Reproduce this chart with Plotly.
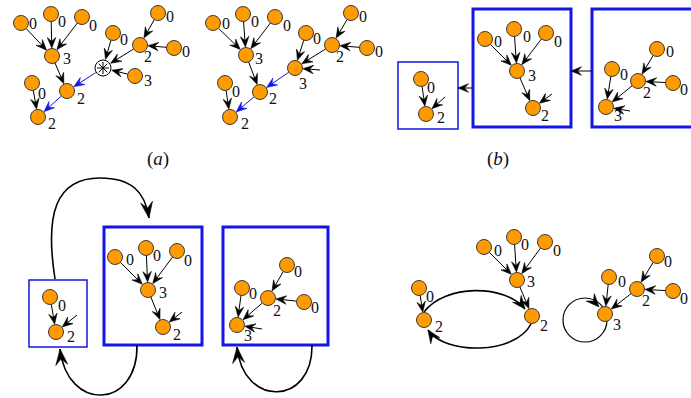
import math
import plotly.graph_objects as go

W, H = 691, 398

# ---------------- data (node positions, labels, edges) ----------------
# panel (a) left
a1_x = [21, 51, 82, 52, 67, 32, 38, 113, 140, 158, 174, 135]
a1_y = [23, 14, 17, 56, 91, 83, 117, 33, 45, 13, 48, 76]
a1_lab = ['0', '0', '0', '3', '2', '0', '2', '0', '2', '0', '0', '3']
a1_lx = [33, 62, 93, 67, 81, 42, 52, 124, 148, 170, 186, 148]
a1_ly = [25, 23, 27, 60, 100, 95, 125, 41, 58, 18, 53, 82]
a1_otimes = (103, 68)
a1_edges = [(0, 3), (1, 3), (2, 3), (3, 4), (5, 6), (7, 'X'), (8, 'X'), (11, 'X'), (9, 8), (10, 8)]
a1_blue = [(4, 6), ('X', 4)]

# panel (a) right
a2_x = [213, 243, 275, 246, 260, 225, 230, 306, 332, 351, 367, 295]
a2_y = [23, 14, 17, 55, 92, 83, 117, 33, 45, 13, 48, 68]
a2_lab = ['0', '0', '0', '3', '2', '0', '2', '0', '2', '0', '0', '3']
a2_lx = [226, 255, 287, 259, 273, 236, 245, 317, 340, 363, 379, 303]
a2_ly = [25, 23, 27, 60, 100, 93, 125, 40, 58, 18, 53, 85]
a2_edges = [(0, 3), (1, 3), (2, 3), (3, 4), (5, 6), (7, 11), (8, 11), (9, 8), (10, 8)]
a2_blue = [(4, 6), (11, 4)]
a2_stubs = [(11, 320, 70)]

# panel (b)
b1_x = [421, 426]; b1_y = [79, 114]; b1_lab = ['0', '2']
b1_lx = [431, 441]; b1_ly = [89, 119]
b1_edges = [(0, 1)]; b1_stubs = [(1, 445, 97)]

b2_x = [485, 514, 546, 517, 533]; b2_y = [39, 29, 33, 71, 108]
b2_lab = ['0', '0', '0', '3', '2']
b2_lx = [498, 527, 558, 532, 545]; b2_ly = [43, 38, 43, 77, 117]
b2_edges = [(0, 3), (1, 3), (2, 3), (3, 4)]; b2_stubs = [(4, 552, 94)]

b3_x = [657, 612, 638, 673, 606]; b3_y = [49, 69, 81, 83, 107]
b3_lab = ['0', '0', '2', '0', '3']
b3_lx = [670, 624, 647, 684, 618]; b3_ly = [53, 76, 94, 91, 117]
b3_edges = [(0, 2), (3, 2), (1, 4), (2, 4)]; b3_stubs = [(4, 630, 111)]

# panel (c)
c1_x = [50, 56]; c1_y = [297, 332]; c1_lab = ['0', '2']
c1_lx = [62, 71]; c1_ly = [307, 338]
c1_edges = [(0, 1)]; c1_stubs = [(1, 77, 315)]

c2_x = [115, 146, 177, 148, 163]; c2_y = [257, 248, 251, 290, 327]
c2_lab = ['0', '0', '0', '3', '2']
c2_lx = [130, 157, 188, 163, 177]; c2_ly = [261, 257, 262, 294, 336]
c2_edges = [(0, 3), (1, 3), (2, 3), (3, 4)]; c2_stubs = [(4, 182, 312)]

c3_x = [287, 242, 268, 304, 237]; c3_y = [265, 288, 298, 302, 325]
c3_lab = ['0', '0', '2', '0', '3']
c3_lx = [298, 253, 277, 315, 248]; c3_ly = [273, 295, 312, 309, 337]
c3_edges = [(0, 2), (3, 2), (1, 4), (2, 4)]; c3_stubs = [(4, 262, 329)]

# panel (d)
d1_x = [419, 424]; d1_y = [288, 320]; d1_lab = ['0', '2']
d1_lx = [430, 439]; d1_ly = [298, 328]
d1_edges = [(0, 1)]

d2_x = [484, 514, 545, 517, 532]; d2_y = [247, 237, 242, 280, 316]
d2_lab = ['0', '0', '0', '3', '2']
d2_lx = [498, 525, 557, 531, 544]; d2_ly = [252, 246, 252, 283, 327]
d2_edges = [(0, 3), (1, 3), (2, 3), (3, 4)]

d3_x = [657, 609, 637, 673, 605]; d3_y = [256, 277, 289, 291, 314]
d3_lab = ['0', '0', '2', '0', '3']
d3_lx = [668, 622, 646, 684, 617]; d3_ly = [263, 283, 302, 300, 326]
d3_edges = [(0, 2), (3, 2), (1, 4), (2, 4)]

panel_labels = ['(<i>a</i>)', '(<i>b</i>)']
panel_lx = [158, 498]
panel_ly = [160, 160]

# ---------------- drawing helpers ----------------
R = 7.5
BLACK = '#000000'
BLUE = '#1515e6'
ORANGE = '#FF9A00'
shapes = []
traces = []


def arrowhead(tx, ty, dx, dy, L=10.5, Wd=8.5, color=BLACK):
    n = math.hypot(dx, dy)
    dx, dy = dx / n, dy / n
    px, py = -dy, dx
    bx, by = tx - L * dx, ty - L * dy
    ix, iy = tx - 0.62 * L * dx, ty - 0.62 * L * dy
    p = (f"M {tx:.2f},{ty:.2f} L {bx + px * Wd / 2:.2f},{by + py * Wd / 2:.2f} "
         f"L {ix:.2f},{iy:.2f} L {bx - px * Wd / 2:.2f},{by - py * Wd / 2:.2f} Z")
    shapes.append(dict(type='path', path=p, fillcolor=color, line=dict(color=color, width=0.6),
                       layer='below', xref='x', yref='y'))


def edge(x0, y0, x1, y1, color=BLACK, r0=R, r1=R + 0.5, width=1.0):
    dx, dy = x1 - x0, y1 - y0
    n = math.hypot(dx, dy)
    ux, uy = dx / n, dy / n
    sx, sy = x0 + ux * r0, y0 + uy * r0
    tx, ty = x1 - ux * r1, y1 - uy * r1
    ex, ey = tx - ux * 5, ty - uy * 5
    shapes.append(dict(type='line', x0=sx, y0=sy, x1=ex, y1=ey, xref='x', yref='y',
                       line=dict(color=color, width=width), layer='below'))
    arrowhead(tx, ty, ux, uy, color=color)


def curve(pts, width=1.6, L=16, Wd=12):
    (x0, y0) = pts[0]
    p = f"M {x0},{y0}"
    for i in range(1, len(pts), 3):
        (a, b), (c, d), (e, f) = pts[i], pts[i + 1], pts[i + 2]
        p += f" C {a},{b} {c},{d} {e},{f}"
    shapes.append(dict(type='path', path=p, line=dict(color=BLACK, width=width),
                       layer='below', xref='x', yref='y'))
    (c, d), (e, f) = pts[-2], pts[-1]
    arrowhead(e, f, e - c, f - d, L=L, Wd=Wd)


def box(x0, y0, x1, y1, width):
    shapes.append(dict(type='rect', x0=x0, y0=y0, x1=x1, y1=y1, xref='x', yref='y',
                       line=dict(color=BLUE, width=width), fillcolor='rgba(0,0,0,0)', layer='below'))


def group(xs, ys, labs, lxs, lys, edges=(), blue=(), stubs=(), extra=None):
    def pos(k):
        if k == 'X':
            return extra
        return xs[k], ys[k]
    for a, b in edges:
        (x0, y0), (x1, y1) = pos(a), pos(b)
        edge(x0, y0, x1, y1, r0=(8.5 if a == 'X' else R), r1=(9 if b == 'X' else R + 0.5))
    for a, b in blue:
        (x0, y0), (x1, y1) = pos(a), pos(b)
        edge(x0, y0, x1, y1, color=BLUE, r0=(8.5 if a == 'X' else R))
    for k, sx, sy in stubs:
        edge(sx, sy, xs[k], ys[k], r0=0)
    traces.append(go.Scatter(x=xs, y=ys, mode='markers', hoverinfo='skip',
                             marker=dict(size=15, color=ORANGE, line=dict(color='#3a3a3a', width=1))))
    traces.append(go.Scatter(x=lxs, y=lys, mode='text', text=labs, hoverinfo='skip',
                             textfont=dict(family='Liberation Serif', size=16, color='#111111')))


# ---------------- panels ----------------
group(a1_x, a1_y, a1_lab, a1_lx, a1_ly, a1_edges, a1_blue, extra=a1_otimes)
traces.append(go.Scatter(x=[a1_otimes[0]], y=[a1_otimes[1]], mode='markers', hoverinfo='skip',
                         marker=dict(size=16, color='white', line=dict(color=BLACK, width=1))))
traces.append(go.Scatter(x=[a1_otimes[0]], y=[a1_otimes[1]], mode='markers', hoverinfo='skip',
                         marker=dict(size=10, symbol='asterisk-open', color=BLACK,
                                     line=dict(color=BLACK, width=1))))
group(a2_x, a2_y, a2_lab, a2_lx, a2_ly, a2_edges, a2_blue, a2_stubs)

box(398, 62, 458, 129, 1.5)
box(473, 9, 571, 127, 3)
box(592, 9, 702, 127, 3)
edge(473, 88, 458, 88, r0=0, r1=0)
edge(592, 71, 571, 71, r0=0, r1=0)
group(b1_x, b1_y, b1_lab, b1_lx, b1_ly, b1_edges, stubs=b1_stubs)
group(b2_x, b2_y, b2_lab, b2_lx, b2_ly, b2_edges, stubs=b2_stubs)
group(b3_x, b3_y, b3_lab, b3_lx, b3_ly, b3_edges, stubs=b3_stubs)

box(29, 280, 87, 347, 1.5)
box(104, 227, 202, 345, 3)
box(223, 227, 328, 345, 3)
curve([(55, 279), (45, 215), (55, 178), (100, 178), (132, 178), (145, 192), (149, 218)])
curve([(137, 345), (138, 410), (67, 412), (60, 349)])
curve([(312, 345), (313, 406), (243, 408), (237, 347)])
group(c1_x, c1_y, c1_lab, c1_lx, c1_ly, c1_edges, stubs=c1_stubs)
group(c2_x, c2_y, c2_lab, c2_lx, c2_ly, c2_edges, stubs=c2_stubs)
group(c3_x, c3_y, c3_lab, c3_lx, c3_ly, c3_edges, stubs=c3_stubs)

curve([(424, 312), (445, 284), (505, 284), (525, 309)], L=13, Wd=11)
curve([(531, 324), (515, 355), (445, 355), (428, 330)], L=13, Wd=11)
shapes.append(dict(type='circle', x0=563, y0=298, x1=607, y1=342, xref='x', yref='y',
                   line=dict(color=BLACK, width=1.2), layer='below'))
arrowhead(599, 307, 1, 1.1, L=13, Wd=11)
group(d1_x, d1_y, d1_lab, d1_lx, d1_ly, d1_edges)
group(d2_x, d2_y, d2_lab, d2_lx, d2_ly, d2_edges)
group(d3_x, d3_y, d3_lab, d3_lx, d3_ly, d3_edges)

traces.append(go.Scatter(x=panel_lx, y=panel_ly, mode='text', text=panel_labels, hoverinfo='skip',
                         textfont=dict(family='Liberation Serif', size=19, color='#111111')))

fig = go.Figure(traces)
fig.update_layout(
    width=W, height=H, margin=dict(l=0, r=0, t=0, b=0),
    paper_bgcolor='white', plot_bgcolor='white', showlegend=False,
    shapes=shapes,
    xaxis=dict(range=[0, W], visible=False, fixedrange=True),
    yaxis=dict(range=[H, 0], visible=False, fixedrange=True),
)
fig.write_html("out.html", config={'displayModeBar': False},
               post_script="document.body.style.margin='0';document.body.style.overflow='hidden';")
